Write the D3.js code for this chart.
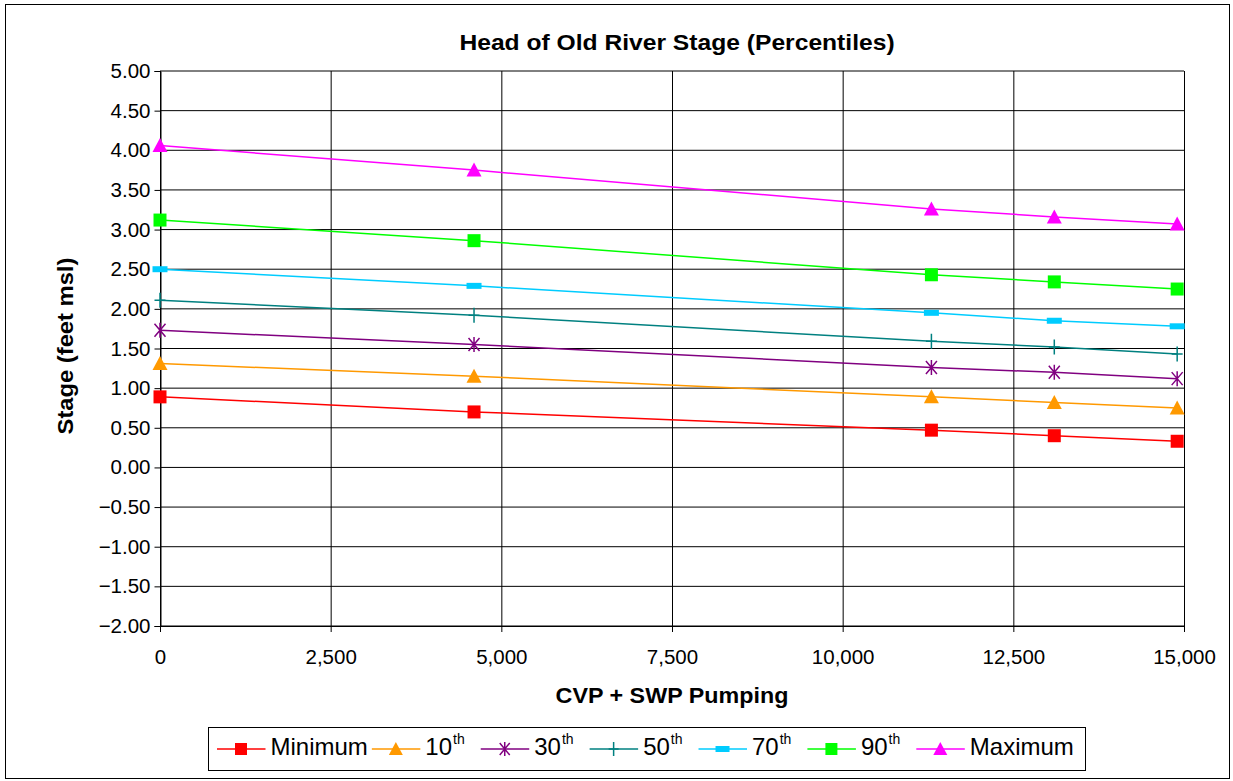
<!DOCTYPE html>
<html>
<head>
<meta charset="utf-8">
<script src="https://cdn.jsdelivr.net/npm/d3@7"></script>
<style>
  body { margin: 0; background: #fff; }
  svg { display: block; }
  text { font-family: Arial, "Liberation Sans", sans-serif; fill: #000; }
</style>
</head>
<body>
<div id="chart"></div>
<script>
// Pumping rates where each percentile was computed
const pumping = [0, 4600, 11300, 13100, 14900];

// Stage (feet msl) per percentile
const minimum = [0.89, 0.70, 0.47, 0.40, 0.33];
const p10     = [1.31, 1.15, 0.89, 0.82, 0.75];
const p30     = [1.73, 1.55, 1.26, 1.20, 1.12];
const p50     = [2.11, 1.92, 1.59, 1.52, 1.43];
const p70     = [2.50, 2.29, 1.95, 1.85, 1.78];
const p90     = [3.12, 2.86, 2.43, 2.34, 2.25];
const maximum = [4.06, 3.75, 3.26, 3.16, 3.07];

const seriesNames = ["Minimum", "10", "30", "50", "70", "90", "Maximum"];
const seriesSup   = ["", "th", "th", "th", "th", "th", ""];
const seriesVals  = [minimum, p10, p30, p50, p70, p90, maximum];
const seriesColor = ["#FF0000", "#FF9900", "#800080", "#008080", "#00CCFF", "#00FF00", "#FF00FF"];
const seriesMark  = ["square", "triangle", "asterisk", "plus", "dash", "square", "triangle"];

const xTicks = [0, 2500, 5000, 7500, 10000, 12500, 15000];
const yTicks = d3.range(-2, 5.001, 0.5);

const width = 1233, height = 781;

const svg = d3.select("#chart").append("svg")
    .attr("width", width)
    .attr("height", height);

svg.append("rect")
    .attr("width", width).attr("height", height)
    .attr("fill", "#fff");

// outer chart border
svg.append("rect")
    .attr("x", 5.5).attr("y", 4.5)
    .attr("width", 1224).attr("height", 774)
    .attr("fill", "none")
    .attr("stroke", "#000")
    .attr("stroke-width", 1);

const x = d3.scaleLinear().domain([0, 15000]).range([160, 1184]);
const y = d3.scaleLinear().domain([-2, 5]).range([626, 71]);

// gridlines
svg.append("g")
    .selectAll("line")
    .data(yTicks)
    .enter().append("line")
    .attr("x1", x(0)).attr("x2", x(15000))
    .attr("y1", d => y(d)).attr("y2", d => y(d))
    .attr("stroke", "#000")
    .attr("stroke-width", 1);

svg.append("g")
    .selectAll("line")
    .data(xTicks)
    .enter().append("line")
    .attr("x1", d => x(d) + 0.5).attr("x2", d => x(d) + 0.5)
    .attr("y1", y(5)).attr("y2", y(-2))
    .attr("stroke", "#000")
    .attr("stroke-width", 1);

// axes
const yAxis = svg.append("g")
    .attr("transform", `translate(${x(0) + 0.5},0)`)
    .call(d3.axisLeft(y).tickValues(yTicks).tickFormat(d3.format(".2f")).tickSize(6).tickPadding(4));

const xAxis = svg.append("g")
    .attr("transform", `translate(0,${y(-2)})`)
    .call(d3.axisBottom(x).tickValues(xTicks).tickFormat(d3.format(",")).tickSize(6).tickPadding(17));

[yAxis, xAxis].forEach(a => {
    a.select(".domain").attr("stroke", "#000");
    a.selectAll(".tick line").attr("stroke", "#000");
    a.selectAll("text")
        .attr("font-family", "Arial, 'Liberation Sans', sans-serif")
        .attr("font-size", 20.5)
        .attr("fill", "#000");
});

// marker shapes
function markerPath(type, s) {
    switch (type) {
        case "square":   return `M${-s},${-s}H${s}V${s}H${-s}Z`;
        case "triangle": return `M0,${-s - 1}L${s + 1},${s}H${-s - 1}Z`;
        case "dash":     return `M${-s - 1},-3H${s + 1}V3H${-s - 1}Z`;
        case "plus":     return `M0,${-s - 1}V${s + 1}M${-s + 1},0H${s - 1}`;
        case "asterisk": return `M${-s + 1},${-s}L${s - 1},${s}M${-s + 1},${s}L${s - 1},${-s}M0,${-s - 1}V${s + 1}`;
    }
}
const filled = t => t === "square" || t === "triangle" || t === "dash";

const line = d3.line()
    .x((d, i) => x(pumping[i]))
    .y(d => y(d));

const series = svg.append("g")
    .selectAll("g")
    .data(seriesVals)
    .enter().append("g");

series.append("path")
    .attr("d", d => line(d))
    .attr("fill", "none")
    .attr("stroke", (d, i) => seriesColor[i])
    .attr("stroke-width", 1.5);

series.each(function(vals, si) {
    d3.select(this).selectAll("path.mk")
        .data(vals)
        .enter().append("path")
        .attr("class", "mk")
        .attr("transform", (d, i) => `translate(${x(pumping[i])},${y(d)})`)
        .attr("d", markerPath(seriesMark[si], 6.5))
        .attr("fill", filled(seriesMark[si]) ? seriesColor[si] : "none")
        .attr("stroke", seriesColor[si])
        .attr("stroke-width", filled(seriesMark[si]) ? 0 : 1.5);
});

// titles
svg.append("text")
    .attr("transform", "translate(677,50) scale(1.12,1)")
    .attr("text-anchor", "middle")
    .attr("font-size", 22)
    .attr("font-weight", "bold")
    .text("Head of Old River Stage (Percentiles)");

svg.append("text")
    .attr("transform", "translate(672,703) scale(1.06,1)")
    .attr("text-anchor", "middle")
    .attr("font-size", 22)
    .attr("font-weight", "bold")
    .text("CVP + SWP Pumping");

svg.append("text")
    .attr("transform", "translate(73,346) rotate(-90) scale(1.08,1)")
    .attr("text-anchor", "middle")
    .attr("font-size", 22)
    .attr("font-weight", "bold")
    .text("Stage (feet msl)");

// legend
const legend = svg.append("g");
legend.append("rect")
    .attr("x", 208.5).attr("y", 727.5)
    .attr("width", 877).attr("height", 43)
    .attr("fill", "#fff")
    .attr("stroke", "#000")
    .attr("stroke-width", 1);

let lx = 217;
const ly = 749;
seriesNames.forEach((name, i) => {
    const g = legend.append("g");
    g.append("line")
        .attr("x1", lx).attr("x2", lx + 48.5)
        .attr("y1", ly).attr("y2", ly)
        .attr("stroke", seriesColor[i])
        .attr("stroke-width", 1.5);
    g.append("path")
        .attr("transform", `translate(${lx + 24},${ly})`)
        .attr("d", markerPath(seriesMark[i], 6))
        .attr("fill", filled(seriesMark[i]) ? seriesColor[i] : "none")
        .attr("stroke", seriesColor[i])
        .attr("stroke-width", filled(seriesMark[i]) ? 0 : 1.5);
    const t = g.append("text")
        .attr("x", lx + 53.5).attr("y", ly + 6)
        .attr("font-size", 24);
    t.append("tspan").text(name);
    if (seriesSup[i]) {
        t.append("tspan")
            .attr("dx", 1)
            .attr("dy", -11)
            .attr("font-size", 14)
            .text(seriesSup[i]);
    }
    lx += 53.5 + t.node().getComputedTextLength() + (seriesSup[i] ? 17 : 4);
});
</script>
</body>
</html>
